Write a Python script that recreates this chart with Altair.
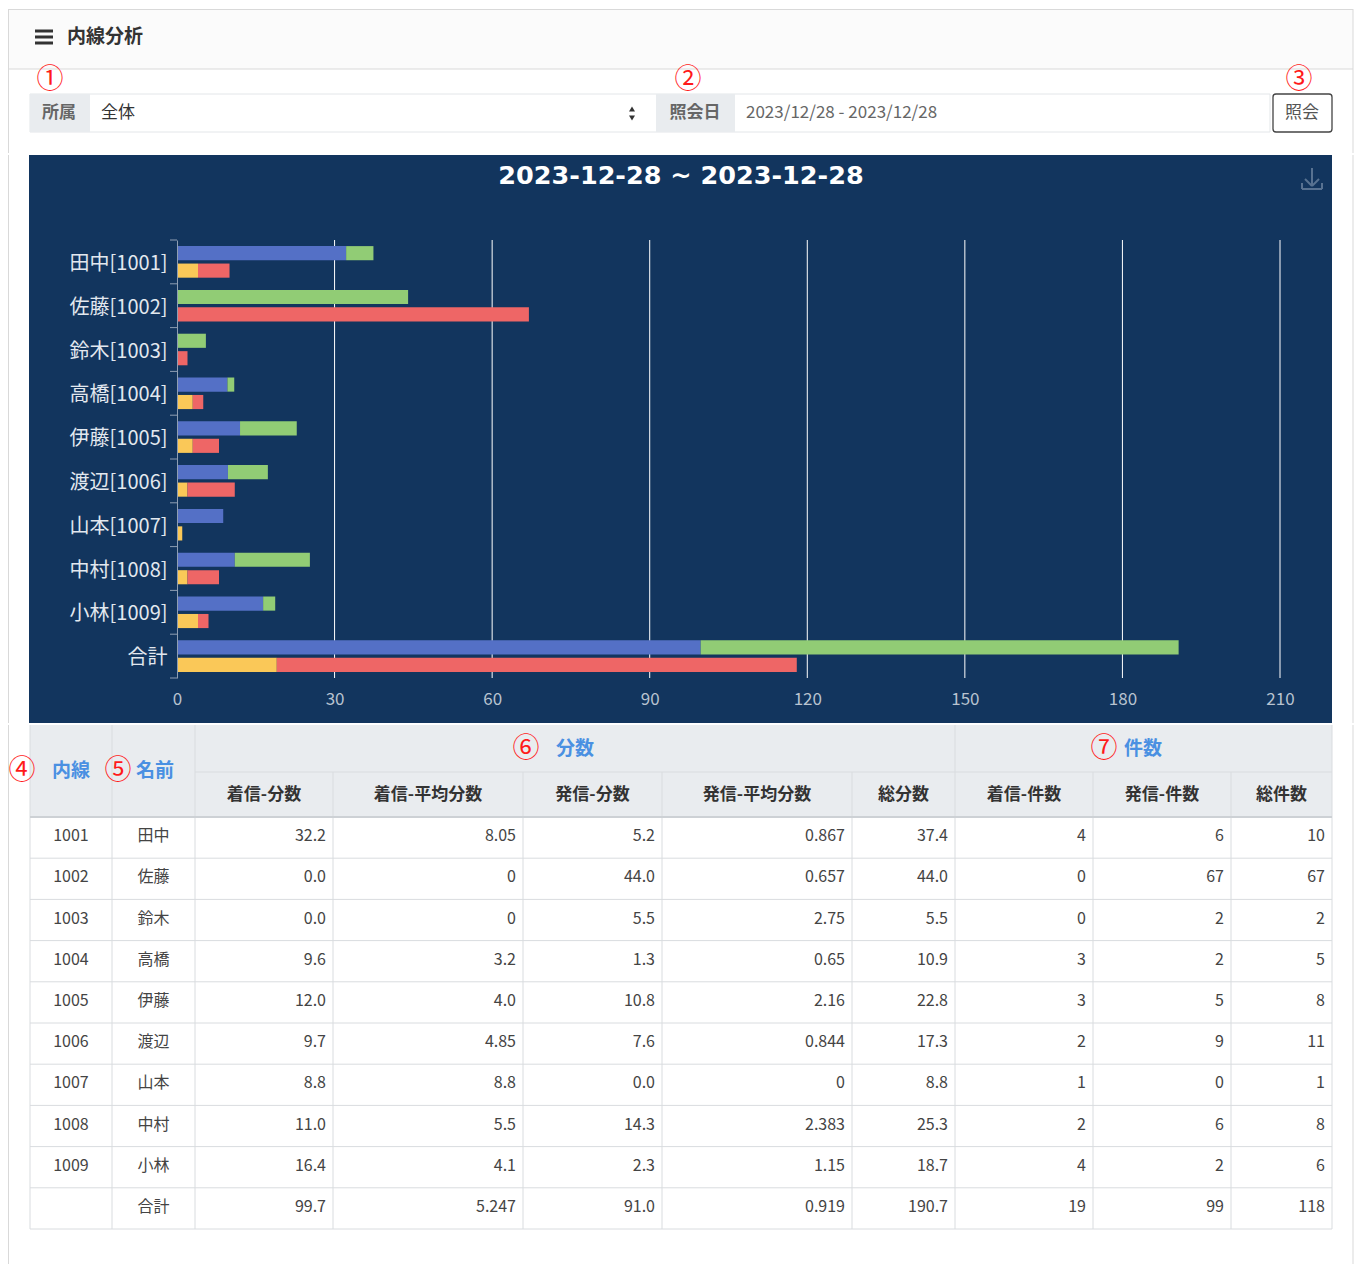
import altair as alt
import pandas as pd

# ---------------- data ----------------
ext = ["1001", "1002", "1003", "1004", "1005", "1006", "1007", "1008", "1009", ""]
names = ["田中", "佐藤", "鈴木", "高橋", "伊藤", "渡辺", "山本", "中村", "小林", "合計"]
in_min = [32.2, 0.0, 0.0, 9.6, 12.0, 9.7, 8.8, 11.0, 16.4, 99.7]
in_avg = ["8.05", "0", "0", "3.2", "4.0", "4.85", "8.8", "5.5", "4.1", "5.247"]
out_min = [5.2, 44.0, 5.5, 1.3, 10.8, 7.6, 0.0, 14.3, 2.3, 91.0]
out_avg = ["0.867", "0.657", "2.75", "0.65", "2.16", "0.844", "0", "2.383", "1.15", "0.919"]
total_min = [37.4, 44.0, 5.5, 10.9, 22.8, 17.3, 8.8, 25.3, 18.7, 190.7]
in_cnt = [4, 0, 0, 3, 3, 2, 1, 2, 4, 19]
out_cnt = [6, 67, 2, 2, 5, 9, 0, 6, 2, 99]
total_cnt = [10, 67, 2, 5, 8, 11, 1, 8, 6, 118]

series = ["着信-分数", "発信-分数", "着信-件数", "発信-件数"]
colors = ["#5470c6", "#91cc75", "#fac858", "#ee6666"]
x_ticks = [0, 30, 60, 90, 120, 150, 180, 210]
sub_headers = ["着信-分数", "着信-平均分数", "発信-分数", "発信-平均分数", "総分数",
               "着信-件数", "発信-件数", "総件数"]
chart_title = "2023-12-28 ~ 2023-12-28"

FONT = "Noto Sans CJK JP"
ONE = pd.DataFrame({"k": [0]})
OX = 177  # page x of bar-plot origin
BORDER = "#d9d9d9"
CARD_L, CARD_R = 8.5, 1353


# ---------------- helpers for UI chrome ----------------
def T(text, x, y, size=16, color="#333", align="center", weight="normal", font=FONT):
    return alt.Chart(ONE).mark_text(
        text=text, fontSize=size, color=color, align=align, baseline="middle",
        fontWeight=weight, font=font
    ).encode(x=alt.value(x), y=alt.value(y))


def L(x1, x2, y1, y2, color=BORDER, sw=1):
    return alt.Chart(ONE).mark_rule(color=color, strokeWidth=sw).encode(
        x=alt.value(x1), x2=alt.value(x2), y=alt.value(y1), y2=alt.value(y2))


def R(x1, x2, y1, y2, fill="white", stroke=None, sw=1, radius=0):
    kw = dict(fill=fill, cornerRadius=radius)
    if stroke:
        kw.update(stroke=stroke, strokeWidth=sw)
    return alt.Chart(ONE).mark_rect(**kw).encode(
        x=alt.value(x1), x2=alt.value(x2), y=alt.value(y1), y2=alt.value(y2))


RED = "#ff1a1a"
CIRC = 27

# ---------------- panel A: header & filter bar (page y 8..152) ----------------
ax = lambda p: p - OX
ay = lambda p: p - 8
HA = 144
A = [
    R(ax(CARD_L), ax(CARD_R), 0.5, ay(68), fill="#fbfbfb"),
    L(ax(CARD_L), ax(CARD_R), 0.5, 0.5),
    L(ax(CARD_L), ax(CARD_L), 0, HA),
    L(ax(CARD_R), ax(CARD_R), 0, HA),
    L(ax(CARD_L), ax(CARD_R), ay(68), ay(68)),
]
for yy in (30, 36, 42):
    A.append(L(ax(35), ax(53), ay(yy), ay(yy), color="#333", sw=3))
A += [
    T("内線分析", ax(67), ay(36), size=19, weight="bold", align="left"),
    T("①", ax(50), ay(79), size=CIRC, color=RED),
    T("②", ax(688), ay(79), size=CIRC, color=RED),
    T("③", ax(1299), ay(79), size=CIRC, color=RED),
    R(ax(30), ax(1270), ay(93), ay(131), fill="white", stroke="#e3e6e9"),
    R(ax(30), ax(90), ay(93), ay(131), fill="#e9ecef"),
    T("所属", ax(59), ay(112), size=17, color="#666", weight="bold"),
    T("全体", ax(101), ay(112), size=17, color="#333", align="left"),
    alt.Chart(ONE).mark_point(shape="triangle-up", filled=True, size=36, color="#333", opacity=1)
    .encode(x=alt.value(ax(632)), y=alt.value(ay(108))),
    alt.Chart(ONE).mark_point(shape="triangle-down", filled=True, size=36, color="#333", opacity=1)
    .encode(x=alt.value(ax(632)), y=alt.value(ay(117))),
    R(ax(656), ax(735), ay(93), ay(131), fill="#e9ecef"),
    T("照会日", ax(695), ay(112), size=17, color="#666", weight="bold"),
    T("2023/12/28 - 2023/12/28", ax(746), ay(112), size=17, color="#666", align="left"),
    R(ax(1273), ax(1332), ay(93), ay(131), fill="white", stroke="#444", sw=1.3, radius=3),
    T("照会", ax(1302), ay(112), size=17, color="#555"),
]
panelA = alt.layer(*A).properties(width=1103, height=HA)

# ---------------- panel B: bar chart (plot page x 177..1280, y 240..678) ----------------
cats = [f"{n}[{e}]" for n, e in zip(names[:9], ext[:9])] + ["合計"]
recs = []
for i, c in enumerate(cats):
    recs.append(dict(cat=c, sub="分数", series=series[0], start=0.0, end=in_min[i]))
    recs.append(dict(cat=c, sub="分数", series=series[1], start=in_min[i], end=in_min[i] + out_min[i]))
    recs.append(dict(cat=c, sub="件数", series=series[2], start=0.0, end=float(in_cnt[i])))
    recs.append(dict(cat=c, sub="件数", series=series[3], start=float(in_cnt[i]),
                     end=float(in_cnt[i] + out_cnt[i])))
bar_df = pd.DataFrame(recs)

x_scale = alt.Scale(domain=[0, 210], nice=False, zero=True)
x_axis = alt.Axis(values=x_ticks, title=None, grid=False, domain=False, ticks=False,
                  labelFont=FONT, labelFontSize=17, labelColor="#b8c3d0", labelFlush=False,
                  labelPadding=13, zindex=2, format="d")
y_scale = alt.Scale(domain=cats, paddingInner=0, paddingOuter=0)
y_axis = alt.Axis(title=None, labelFont=FONT, labelFontSize=20, labelColor="#e2e8ef",
                  labelPadding=10, labelOffset=2, ticks=False, domainColor="#8e9eb3",
                  domainWidth=1, zindex=2, labelLimit=300)

bx = lambda p: p - OX
by = lambda p: p - 240

B = [
    R(bx(29), bx(1332), by(155), by(723), fill="#12355e"),
    L(bx(CARD_L), bx(CARD_L), by(155), by(723)),
    L(bx(CARD_R), bx(CARD_R), by(155), by(723)),
    alt.Chart(pd.DataFrame({"v": x_ticks[1:]})).mark_rule(color="white", strokeWidth=1).encode(
        x=alt.X("v:Q", scale=x_scale, axis=x_axis), y=alt.value(0), y2=alt.value(438)),
    alt.Chart(bar_df).mark_bar().encode(
        x=alt.X("start:Q", scale=x_scale, axis=x_axis),
        x2="end:Q",
        y=alt.Y("cat:N", sort=cats, scale=y_scale, axis=y_axis),
        yOffset=alt.YOffset("sub:N", sort=["分数", "件数"],
                            scale=alt.Scale(domain=["分数", "件数"], paddingInner=0.19,
                                            paddingOuter=0.35)),
        color=alt.Color("series:N", scale=alt.Scale(domain=series, range=colors), legend=None),
    ),
    alt.Chart(pd.DataFrame({"cat": cats})).mark_rule(color="#8e9eb3", strokeWidth=1).encode(
        y=alt.Y("cat:N", sort=cats, scale=y_scale, axis=y_axis, bandPosition=0),
        x=alt.value(-7), x2=alt.value(0)),
    L(-7, 0, 438, 438, color="#8e9eb3"),
    T(chart_title, bx(681), by(176), size=25.5, color="white", weight="bold", font="DejaVu Sans"),
]
ICON = "#587291"
for seg in [(1312, 1312, 168, 185), (1305, 1312, 179, 186), (1319, 1312, 179, 186),
            (1302, 1302, 183, 189), (1302, 1322, 189, 189), (1322, 1322, 189, 183)]:
    B.append(L(bx(seg[0]), bx(seg[1]), by(seg[2]), by(seg[3]), color=ICON, sw=2))
panelB = alt.layer(*B).properties(width=1103, height=438)

# ---------------- panel C: table (page y 723..1259) ----------------
cx = lambda p: p - OX
cy = lambda p: p - 723
HC = 539
edges = [cx(e) for e in [30, 112, 195, 333, 523, 662, 852, 955, 1093, 1231, 1332]]
ROW_TOP = cy(815)
ROW_H = 41.2
HDR2_Y = cy(793)

fmt1 = lambda v: f"{v:.1f}"
columns = [ext, names, [fmt1(v) for v in in_min], in_avg, [fmt1(v) for v in out_min], out_avg,
           [fmt1(v) for v in total_min], [str(v) for v in in_cnt], [str(v) for v in out_cnt],
           [str(v) for v in total_cnt]]

cells = []
for ci, col in enumerate(columns):
    for ri, val in enumerate(col):
        yy = ROW_TOP + ROW_H * (ri + 0.5) - 1.5
        if ci < 2:
            cells.append(dict(x=(edges[ci] + edges[ci + 1]) / 2, y=yy, t=val, a="c"))
        else:
            cells.append(dict(x=edges[ci + 1] - 7, y=yy, t=val, a="r"))
cells_df = pd.DataFrame(cells)

hdr_df = pd.DataFrame([dict(x=(edges[i + 2] + edges[i + 3]) / 2, y=HDR2_Y, t=h)
                       for i, h in enumerate(sub_headers)])

segs = []
bottom = ROW_TOP + ROW_H * len(names)
for r in range(1, len(names) + 1):
    yy = ROW_TOP + ROW_H * r
    segs.append(dict(x1=edges[0], x2=edges[-1], y1=yy, y2=yy))
segs.append(dict(x1=edges[2], x2=edges[-1], y1=cy(770), y2=cy(770)))
for i in (0, 1, 2, 7, 10):
    segs.append(dict(x1=edges[i], x2=edges[i], y1=0, y2=bottom))
for i in (3, 4, 5, 6, 8, 9):
    segs.append(dict(x1=edges[i], x2=edges[i], y1=cy(770), y2=bottom))
segs_df = pd.DataFrame(segs)

BLUE = "#4a90e2"
C = [
    L(cx(CARD_L), cx(CARD_L), 0, HC),
    L(cx(CARD_R), cx(CARD_R), 0, HC),
    R(edges[0], edges[-1], 0, ROW_TOP, fill="#e9ecef"),
    alt.Chart(segs_df).mark_rule(color="#d9dcdf", strokeWidth=1).encode(
        x=alt.X("x1:Q", scale=None), x2="x2:Q",
        y=alt.Y("y1:Q", scale=None), y2="y2:Q"),
    L(edges[0], edges[-1], ROW_TOP, ROW_TOP, color="#cdd1d5", sw=2),
    T("内線", cx(71), cy(769), size=19, color=BLUE, weight="bold"),
    T("名前", cx(155), cy(769), size=19, color=BLUE, weight="bold"),
    T("分数", cx(575), cy(747), size=19, color=BLUE, weight="bold"),
    T("件数", cx(1143), cy(747), size=19, color=BLUE, weight="bold"),
    T("④", cx(22), cy(769), size=CIRC, color=RED),
    T("⑤", cx(118), cy(769), size=CIRC, color=RED),
    T("⑥", cx(526), cy(747), size=CIRC, color=RED),
    T("⑦", cx(1104), cy(747), size=CIRC, color=RED),
    alt.Chart(hdr_df).mark_text(font=FONT, fontSize=17, fontWeight="bold", color="#333",
                                baseline="middle", align="center").encode(
        x=alt.X("x:Q", scale=None), y=alt.Y("y:Q", scale=None), text="t:N"),
    alt.Chart(cells_df[cells_df.a == "c"]).mark_text(font=FONT, fontSize=16, color="#444",
                                                    baseline="middle", align="center").encode(
        x=alt.X("x:Q", scale=None), y=alt.Y("y:Q", scale=None), text="t:N"),
    alt.Chart(cells_df[cells_df.a == "r"]).mark_text(font=FONT, fontSize=16, color="#444",
                                                    baseline="middle", align="right").encode(
        x=alt.X("x:Q", scale=None), y=alt.Y("y:Q", scale=None), text="t:N"),
]
panelC = alt.layer(*C).properties(width=1103, height=HC)

chart = alt.vconcat(panelA, panelB, panelC, spacing=0).properties(
    padding=0, background="white"
).configure_view(strokeWidth=0)

chart.save("out.html", embed_options={"renderer": "svg", "actions": False})
